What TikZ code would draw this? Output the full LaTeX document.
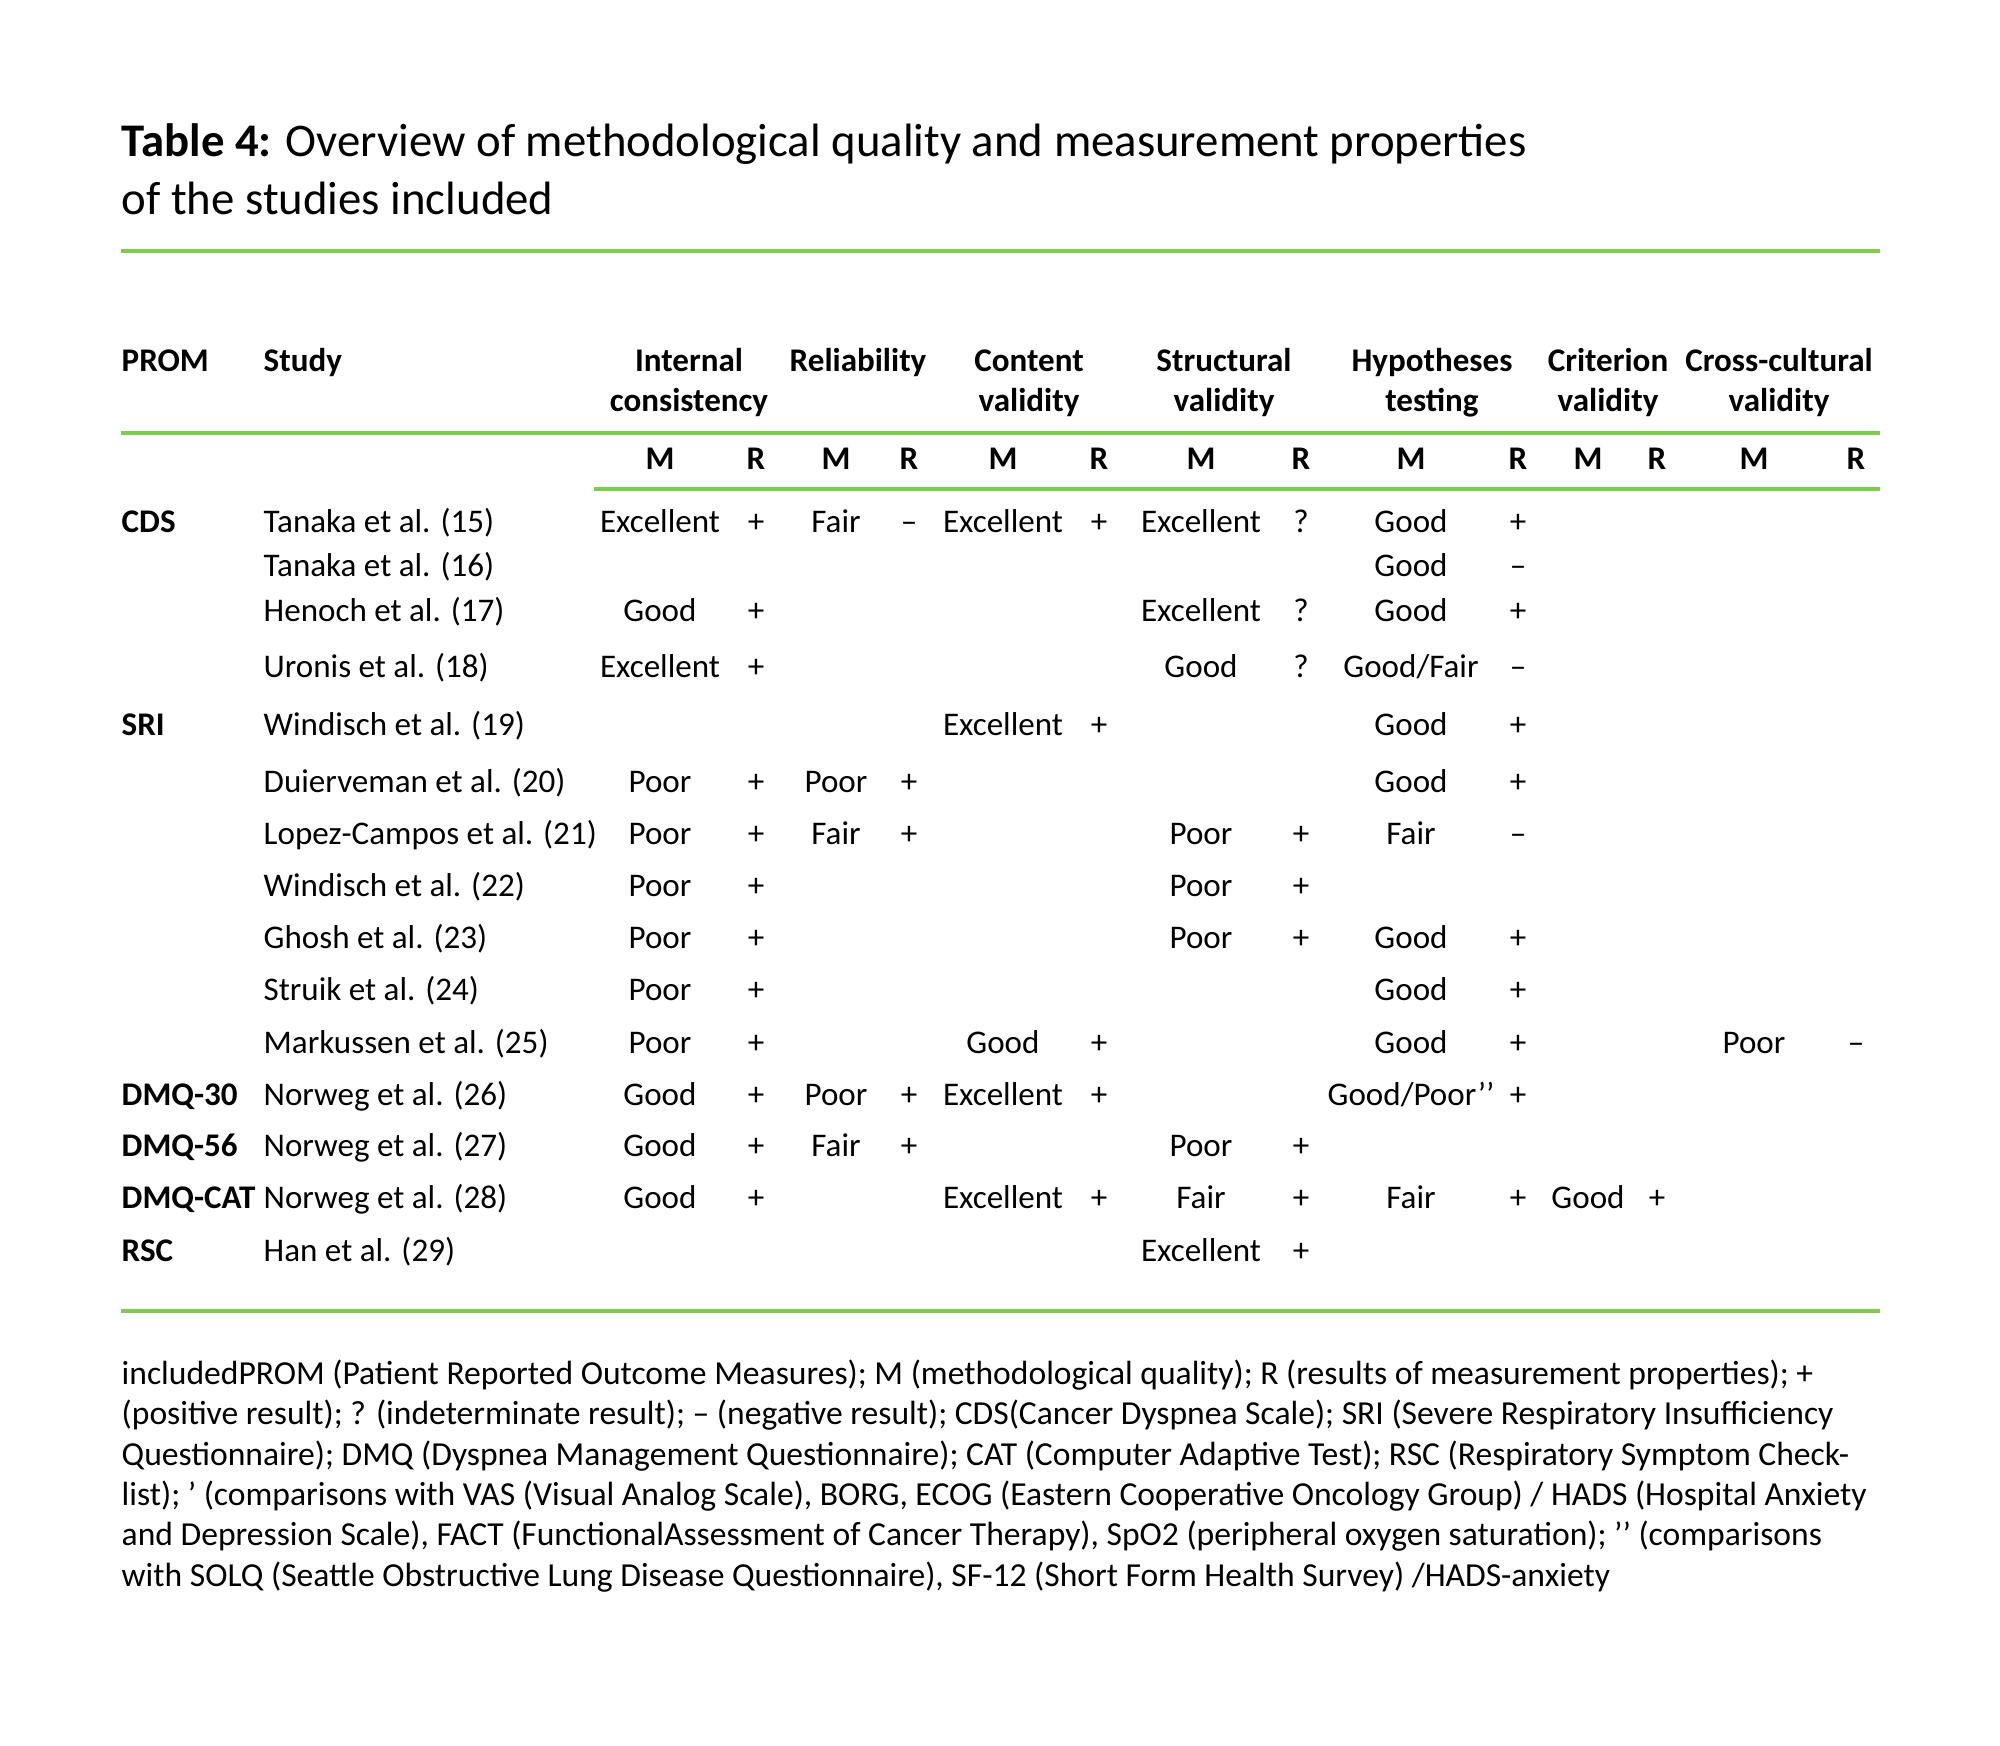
\documentclass[tikz,border=0pt]{standalone}
\usepackage{fontspec}
\setmainfont{Carlito}
\definecolor{tabgreen}{RGB}{125,204,75}
\begin{document}
\begin{tikzpicture}[x=0.01cm, y=-0.01cm,
    cell/.style = {inner sep=0pt, text height=8.7pt, text depth=2pt, font=\fontsize{9.4}{11}\selectfont},
    hdr/.style = {cell, font=\fontsize{9.4}{11}\selectfont\bfseries},
    lcell/.style = {cell, anchor=west},
    prom/.style = {hdr, anchor=west},
    note/.style = {lcell, font=\fontsize{9.55}{11}\selectfont},
    ttl/.style = {inner sep=0pt, anchor=west, text height=12.2pt, text depth=3pt, font=\fontsize{13.3}{16}\selectfont},
    rule/.style = {draw=tabgreen, line width=1.3pt}]
\useasboundingbox (0,0) rectangle (2000,1746);

% title
\node[ttl] (title1) at (121,140) {\textbf{Table 4:} Overview of methodological quality and measurement properties};
\node[ttl] (title2) at (121,198) {of the studies included};
\draw[rule] (121,251) -- (1880,251);

% header
\node[prom] (hprom) at (121,360) {PROM};
\node[prom] (hstudy) at (263,360) {Study};
\node[hdr] (hic1) at (689,360) {Internal};
\node[hdr] (hic2) at (689,400) {consistency};
\node[hdr] (hrel) at (858,360) {Reliability};
\node[hdr] (hcon1) at (1029,360) {Content};
\node[hdr] (hcon2) at (1029,400) {validity};
\node[hdr] (hstr1) at (1224,360) {Structural};
\node[hdr] (hstr2) at (1224,400) {validity};
\node[hdr] (hhyp1) at (1432,360) {Hypotheses};
\node[hdr] (hhyp2) at (1432,400) {testing};
\node[hdr] (hcri1) at (1608,360) {Criterion};
\node[hdr] (hcri2) at (1608,400) {validity};
\node[hdr] (hcc1) at (1779,360) {Cross-cultural};
\node[hdr] (hcc2) at (1779,400) {validity};
\draw[rule] (121,433) -- (1880,433);
\foreach \mx/\rx/\n in {660/756/ic, 836/909/rel, 1003/1099/con, 1201/1301/str, 1411/1518/hyp, 1588/1657/cri, 1754/1856/cc}{
  \node[hdr] (\n m) at (\mx,458) {M};
  \node[hdr] (\n r) at (\rx,458) {R};
}
\draw[rule] (594,489) -- (1880,489);

% CDS
\node[prom] (cds) at (121,521) {CDS};
\node[lcell] (s15) at (263,521) {Tanaka et al. (15)};
\node[cell] (s15icm) at (660,521) {Excellent};
\node[cell] (s15icr) at (756,521) {+};
\node[cell] (s15relm) at (836,521) {Fair};
\node[cell] (s15relr) at (909,521) {–};
\node[cell] (s15conm) at (1003,521) {Excellent};
\node[cell] (s15conr) at (1099,521) {+};
\node[cell] (s15strm) at (1201,521) {Excellent};
\node[cell] (s15strr) at (1301,521) {?};
\node[cell] (s15hypm) at (1411,521) {Good};
\node[cell] (s15hypr) at (1518,521) {+};

\node[lcell] (s16) at (263,565) {Tanaka et al. (16)};
\node[cell] (s16hypm) at (1411,565) {Good};
\node[cell] (s16hypr) at (1518,565) {–};

\node[lcell] (s17) at (263,610) {Henoch et al. (17)};
\node[cell] (s17icm) at (660,610) {Good};
\node[cell] (s17icr) at (756,610) {+};
\node[cell] (s17strm) at (1201,610) {Excellent};
\node[cell] (s17strr) at (1301,610) {?};
\node[cell] (s17hypm) at (1411,610) {Good};
\node[cell] (s17hypr) at (1518,610) {+};

\node[lcell] (s18) at (263,666) {Uronis et al. (18)};
\node[cell] (s18icm) at (660,666) {Excellent};
\node[cell] (s18icr) at (756,666) {+};
\node[cell] (s18strm) at (1201,666) {Good};
\node[cell] (s18strr) at (1301,666) {?};
\node[cell] (s18hypm) at (1411,666) {Good/Fair};
\node[cell] (s18hypr) at (1518,666) {–};

% SRI
\node[prom] (sri) at (121,724) {SRI};
\node[lcell] (s19) at (263,724) {Windisch et al. (19)};
\node[cell] (s19conm) at (1003,724) {Excellent};
\node[cell] (s19conr) at (1099,724) {+};
\node[cell] (s19hypm) at (1411,724) {Good};
\node[cell] (s19hypr) at (1518,724) {+};

\node[lcell] (s20) at (263,781) {Duierveman et al. (20)};
\node[cell] (s20icm) at (660,781) {Poor};
\node[cell] (s20icr) at (756,781) {+};
\node[cell] (s20relm) at (836,781) {Poor};
\node[cell] (s20relr) at (909,781) {+};
\node[cell] (s20hypm) at (1411,781) {Good};
\node[cell] (s20hypr) at (1518,781) {+};

\node[lcell] (s21) at (263,833) {Lopez-Campos et al. (21)};
\node[cell] (s21icm) at (660,833) {Poor};
\node[cell] (s21icr) at (756,833) {+};
\node[cell] (s21relm) at (836,833) {Fair};
\node[cell] (s21relr) at (909,833) {+};
\node[cell] (s21strm) at (1201,833) {Poor};
\node[cell] (s21strr) at (1301,833) {+};
\node[cell] (s21hypm) at (1411,833) {Fair};
\node[cell] (s21hypr) at (1518,833) {–};

\node[lcell] (s22) at (263,885) {Windisch et al. (22)};
\node[cell] (s22icm) at (660,885) {Poor};
\node[cell] (s22icr) at (756,885) {+};
\node[cell] (s22strm) at (1201,885) {Poor};
\node[cell] (s22strr) at (1301,885) {+};

\node[lcell] (s23) at (263,937) {Ghosh et al. (23)};
\node[cell] (s23icm) at (660,937) {Poor};
\node[cell] (s23icr) at (756,937) {+};
\node[cell] (s23strm) at (1201,937) {Poor};
\node[cell] (s23strr) at (1301,937) {+};
\node[cell] (s23hypm) at (1411,937) {Good};
\node[cell] (s23hypr) at (1518,937) {+};

\node[lcell] (s24) at (263,989) {Struik et al. (24)};
\node[cell] (s24icm) at (660,989) {Poor};
\node[cell] (s24icr) at (756,989) {+};
\node[cell] (s24hypm) at (1411,989) {Good};
\node[cell] (s24hypr) at (1518,989) {+};

\node[lcell] (s25) at (263,1042) {Markussen et al. (25)};
\node[cell] (s25icm) at (660,1042) {Poor};
\node[cell] (s25icr) at (756,1042) {+};
\node[cell] (s25conm) at (1003,1042) {Good};
\node[cell] (s25conr) at (1099,1042) {+};
\node[cell] (s25hypm) at (1411,1042) {Good};
\node[cell] (s25hypr) at (1518,1042) {+};
\node[cell] (s25ccm) at (1754,1042) {Poor};
\node[cell] (s25ccr) at (1856,1042) {–};

% DMQ
\node[prom] (dmq30) at (121,1094) {DMQ-30};
\node[lcell] (s26) at (263,1094) {Norweg et al. (26)};
\node[cell] (s26icm) at (660,1094) {Good};
\node[cell] (s26icr) at (756,1094) {+};
\node[cell] (s26relm) at (836,1094) {Poor};
\node[cell] (s26relr) at (909,1094) {+};
\node[cell] (s26conm) at (1003,1094) {Excellent};
\node[cell] (s26conr) at (1099,1094) {+};
\node[cell] (s26hypm) at (1411,1094) {Good/Poor’’};
\node[cell] (s26hypr) at (1518,1094) {+};

\node[prom] (dmq56) at (121,1145) {DMQ-56};
\node[lcell] (s27) at (263,1145) {Norweg et al. (27)};
\node[cell] (s27icm) at (660,1145) {Good};
\node[cell] (s27icr) at (756,1145) {+};
\node[cell] (s27relm) at (836,1145) {Fair};
\node[cell] (s27relr) at (909,1145) {+};
\node[cell] (s27strm) at (1201,1145) {Poor};
\node[cell] (s27strr) at (1301,1145) {+};

\node[prom] (dmqcat) at (121,1197) {DMQ-CAT};
\node[lcell] (s28) at (263,1197) {Norweg et al. (28)};
\node[cell] (s28icm) at (660,1197) {Good};
\node[cell] (s28icr) at (756,1197) {+};
\node[cell] (s28conm) at (1003,1197) {Excellent};
\node[cell] (s28conr) at (1099,1197) {+};
\node[cell] (s28strm) at (1201,1197) {Fair};
\node[cell] (s28strr) at (1301,1197) {+};
\node[cell] (s28hypm) at (1411,1197) {Fair};
\node[cell] (s28hypr) at (1518,1197) {+};
\node[cell] (s28crim) at (1588,1197) {Good};
\node[cell] (s28crir) at (1657,1197) {+};

% RSC
\node[prom] (rsc) at (121,1250) {RSC};
\node[lcell] (s29) at (263,1250) {Han et al. (29)};
\node[cell] (s29strm) at (1201,1250) {Excellent};
\node[cell] (s29strr) at (1301,1250) {+};

\draw[rule] (121,1311) -- (1880,1311);

% footnote
\node[note] (fn1) at (121,1373) {includedPROM (Patient Reported Outcome Measures); M (methodological quality); R (results of measurement properties); +};
\node[note] (fn2) at (121,1413) {(positive result); ? (indeterminate result); – (negative result); CDS(Cancer Dyspnea Scale); SRI (Severe Respiratory Insufficiency};
\node[note] (fn3) at (121,1454) {Questionnaire); DMQ (Dyspnea Management Questionnaire); CAT (Computer Adaptive Test); RSC (Respiratory Symptom Check-};
\node[note] (fn4) at (121,1494) {list); ’ (comparisons with VAS (Visual Analog Scale), BORG, ECOG (Eastern Cooperative Oncology Group) / HADS (Hospital Anxiety};
\node[note] (fn5) at (121,1534) {and Depression Scale), FACT (FunctionalAssessment of Cancer Therapy), SpO2 (peripheral oxygen saturation); ’’ (comparisons};
\node[note] (fn6) at (121,1575) {with SOLQ (Seattle Obstructive Lung Disease Questionnaire), SF-12 (Short Form Health Survey) /HADS-anxiety};
\end{tikzpicture}
\end{document}
